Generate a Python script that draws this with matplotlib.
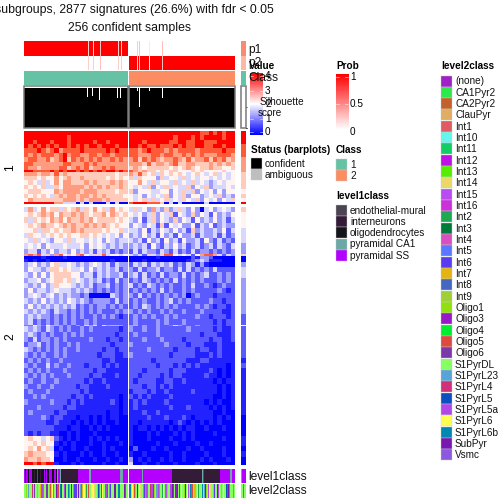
import matplotlib
matplotlib.use("Agg")
import matplotlib.pyplot as plt
from matplotlib.colors import LinearSegmentedColormap, ListedColormap
from matplotlib.patches import Rectangle
import numpy as np

plt.rcParams["font.family"] = ["Liberation Sans", "DejaVu Sans"]

title_lines = ["2 subgroups, 2877 signatures (26.6%) with fdr < 0.05", "256 confident samples"]

# digits 0-9 = blue..white..red, left block | right block
cluster1 = [
    "999999999999999999999999|999999999999999988989899",
    "999999999989999999999999|999999999989998989999899",
    "998999899989999989989999|999899999889988998889999",
    "989898989989898998999899|998988988898988998899899",
    "888987897888898888898988|887898887878888788888988",
    "878788878978877887887888|887778878877878787778887",
    "788778678968787878778787|786878767787686778687867",
    "887777777887778787777777|777686776786677666767676",
    "877677778867878677878777|676566666565676566766556",
    "998888989899898989899898|876766565665556565555655",
    "777677686766666666666566|768656465656545654564545",
    "666565575676676666656565|646555364554645455454545",
    "565464575776667676667676|557546455464546454345455",
    "656564465777776767676676|545463546454463546344454",
    "566655576777767776666566|635554455354646354535355",
    "656565467677677676766665|545354546354635534546343",
    "576666666777676777676666|545646456454654635453546",
    "999999977444040400040400|899988860404000004000000",
]
cluster2 = [
    "474575664656746575647565|464537436346435304534543",
    "565676757667676566757656|545346354625436354253435",
    "646565767576676756666565|435246354363542534353424",
    "565676656767667676765655|354354262545335243523433",
    "556466565667676666565564|443524354353426343343524",
    "465545656565566565454535|343534253425334243342423",
    "546454355464554545354344|434253425342533425324232",
    "454535444544453545434343|343425324353423423424324",
    "344243534435343424342323|242433243242324233232323",
    "787846378565785466845545|434264368854542578874243",
    "000010000100000000000000|000000100000002133200000",
    "101001000000000000001000|000100000000012343111000",
    "345343564454343454342433|243424343423243131000000",
    "354434665654453534343423|324233423324242323242222",
    "435353566665534424343342|342423242332423234223232",
    "344534566564543434232423|232432323242323232223232",
    "434353465554343423342323|423243232322324223212322",
    "353443454443434323232323|232323242322323222223212",
    "345434534343323000004323|324232323232302322212222",
    "434353434354343233332423|232322323423232222322122",
    "353434343434232323323232|232432323232222323212212",
    "434343243323232323222323|323232232322322232222112",
    "343433232323232232323212|232323223232222322122212",
    "342323232323223232222222|232222323222322222212122",
    "885785773232324342437732|372322322863222322222122",
    "434324323232232322222212|322322322222232222212112",
    "343232322323232222222122|232222322222222212221112",
    "324233232322222322212212|222322232222122222122112",
    "233423232232322222221222|322222223222212221112111",
    "432323232322322222122122|222232222212222122112111",
    "323232232322222221222112|322222222122222111212111",
    "232323223222222222112111|222221222222211122111111",
    "323224232232221222121211|222222122212121211111101",
    "232323222322222212211111|222122222122211111210101",
    "323232322232222122111211|221222212122111112110101",
    "232232232222221211211111|212222112211211111101011",
    "322322322222122111121111|222122121211111111110101",
    "232223222222212111111111|122212112111112111110101",
    "223232222221221211111101|212121111211111111100101",
    "322222322212121111112101|121211112111111110101001",
    "222322222122111111111101|121111111211121111010101",
    "232222212211111111101101|111211211111111111100100",
    "222232122111011010101100|111121112111210111101010",
    "222221121110101010100100|110111111012101010101000",
    "222222211101100101010000|101101010101011001000100",
    "212122110010100010000000|100010100010101000010000",
    "565545621010100101010100|100010000100101000000100",
    "556565510101000100100010|100000100010000100100000",
    "565756401001001000101000|020001001000010010000100",
    "676665510100010100100100|100100000100100001000100",
    "766766500100100010010010|301010010100100010100010",
    "998989910001010000100100|400100100010000100010000",
]
thin_rows1 = {9: 0.35, 17: 0.4}
thin_rows2 = {9: 0.35, 10: 0.7, 11: 0.5, 24: 0.35, 51: 0.6}
side_cluster1 = [9, 9, 9, 8, 8, 8, 7, 7, 7, 7, 6, 6, 6, 6, 5, 6, 5, 9]
side_cluster2 = [6, 5, 5, 5, 4, 4, 4, 3, 3, 6, 0, 0, 3, 4, 4, 3, 3, 3, 3, 3, 3, 3, 2, 2, 5, 2, 2, 2, 2, 2,
                 2, 1, 2, 1, 1, 1, 1, 1, 1, 1, 1, 1, 0, 0, 0, 0, 1, 1, 0, 1, 0, 0]

# membership, one value per pixel column; the few non-pure samples are listed
block_widths = [103, 106]
impure_left = {63: 0.2, 68: 0.2, 75: 0.25, 93: 0.2, 96: 0.2}
impure_right = {8: 0.2, 10: 0.25, 20: 0.1, 33: 0.25}
silhouette_base = 0.945
silhouette_left = {63: 0.75, 68: 0.76, 75: 0.67, 93: 0.72, 96: 0.72}
silhouette_right = {8: 0.87, 10: 0.49, 20: 0.89, 33: 0.72}

level1_names = ["endothelial-mural", "interneurons", "oligodendrocytes", "pyramidal CA1", "pyramidal SS"]
level1_colors = ["#4b4553", "#341c38", "#141518", "#6aa9a6", "#b400ff"]
level1_codes = "EIOCS"
level1_left = ("SOSSOSSSOOIOOSOOIOOOSOSOOSSSOOSSOCSSC"
               "IIIIIIIIIIIIIIIISSSSSSSSSSSCCSS"
               "SSSSSSSSSSSSSSSSSSSSSSSSSSSCCCSSSSS")
level1_right = ("SSSSSSSSSSSSSCSSSSSSSSSSSSSSSSSSSSSSSSSSSSS"
                "IIIIIIIIIIIIIIIIIIIIIIIIIIIIIICSIIIIIIIIIIIIIIII"
                "SSSSSSSSSSCCSSS")

level2_names = ["(none)", "CA1Pyr2", "CA2Pyr2", "ClauPyr", "Int1", "Int10", "Int11", "Int12", "Int13", "Int14",
                "Int15", "Int16", "Int2", "Int3", "Int4", "Int5", "Int6", "Int7", "Int8", "Int9",
                "Oligo1", "Oligo3", "Oligo4", "Oligo5", "Oligo6", "S1PyrDL", "S1PyrL23", "S1PyrL4", "S1PyrL5",
                "S1PyrL5a", "S1PyrL6", "S1PyrL6b", "SubPyr", "Vsmc"]
level2_colors = ["#a020c8", "#2fe84e", "#c2622a", "#e0ae62", "#e05a64", "#66f5ea", "#12cc66", "#c010e8", "#55ee00",
                 "#ecd868", "#b84cf0", "#cc30d8", "#1fa851", "#007a3a", "#d850c0", "#5a78ff", "#5a3cf0", "#e4b410",
                 "#4468c0", "#a0d038", "#90e010", "#9818c8", "#00ee30", "#dd4a40", "#7a38a8", "#88ff60", "#58a4d8",
                 "#d03078", "#0c50c0", "#b048e8", "#ffff50", "#0088b0", "#7818b0", "#8c58e0"]
level2_codes = "abcdefghijklmnopqrstuvwxyzABCDEFGH"
level2_left = ("zzuzAzzzBzyzzuzzrDDozzyyzrxzEozzGDxzFGzzDGzzFAzGzAqqFqzGzAxrEEzmz"
               "xzzEEEjzzrCkzFEzzxDFzAqzzzGGzzFFzzzzGFzz")
level2_right = ("FFzEzxrzGzEjzzAqADkzzBDDyuzzAADAzzmEzkkrzzDDGqzvvGzFzEzzuGz"
                "EkzFDxzrrzEmzzjFzAGuzzkEjzzrqzzGDzzuzEzzCFGkzzzAz")

heat_colors = ["#0000ff", "#2222ff", "#5a5aff", "#9c9cff", "#d8d8ff", "#fff4f0", "#ffccbb", "#ff9c80", "#ff5a38", "#ff0000"]
heat_cmap = ListedColormap(heat_colors)
bwr = LinearSegmentedColormap.from_list("bwr2", ["#0000ff", "#ffffff", "#ff0000"])
prob_cmap = LinearSegmentedColormap.from_list("prob", ["#ffffff", "#ff0000"])
class_colors = ["#66c2a5", "#fc8d62"]
BORDER = "#777777"
FS = 10


def parse_rows(rows):
    left = [[int(c) for c in r.split("|")[0]] for r in rows]
    right = [[int(c) for c in r.split("|")[1]] for r in rows]
    return np.array(left), np.array(right)


def membership(width, impure, pure):
    vals = np.full(width, pure, dtype=float)
    for i, v in impure.items():
        vals[i] = v
    return vals.reshape(1, -1)


def codes_to_image(text, codes):
    return np.array([codes.index(c) for c in text]).reshape(1, -1)


def row_edges(n, thin, y0, y1):
    weights = np.array([thin.get(i, 1.0) for i in range(n)])
    edges = np.concatenate([[0], np.cumsum(weights)])
    return y0 + edges / edges[-1] * (y1 - y0)


fig = plt.figure(figsize=(7, 7), dpi=72)
ax = fig.add_axes([0, 0, 1, 1])
ax.set_xlim(0, 504)
ax.set_ylim(504, 0)
ax.axis("off")


def show(img, x0, x1, y0, y1, **kw):
    ax.imshow(img, extent=(x0, x1, y1, y0), aspect="auto", interpolation="nearest", **kw)


def heat(img, xr, edges):
    xs = np.linspace(xr[0], xr[1], img.shape[1] + 1)
    ax.pcolormesh(xs, edges, img, cmap=heat_cmap, vmin=-0.5, vmax=9.5)


left_x = (24, 127.5)
right_x = (129, 235)
side_x = (241, 245.5)

# membership tracks
show(membership(block_widths[0], impure_left, 1.0), *left_x, 41, 56, cmap=prob_cmap, vmin=0, vmax=1)
show(membership(block_widths[1], impure_right, 0.0), *right_x, 41, 56, cmap=prob_cmap, vmin=0, vmax=1)
show(membership(block_widths[0], impure_left, 0.0), *left_x, 56, 70, cmap=prob_cmap, vmin=0, vmax=1)
show(membership(block_widths[1], impure_right, 1.0), *right_x, 56, 70, cmap=prob_cmap, vmin=0, vmax=1)
show(np.array([[0]]), *left_x, 71, 85, cmap=ListedColormap(class_colors), vmin=0, vmax=1)
show(np.array([[1]]), *right_x, 71, 85, cmap=ListedColormap(class_colors), vmin=0, vmax=1)

# side column
ax.add_patch(Rectangle((241, 41), 4.5, 15, color="#f98b70", lw=0))
ax.add_patch(Rectangle((241, 56), 4.5, 14, color="#fdb9a5", lw=0))
ax.add_patch(Rectangle((241, 71), 4.5, 14, color=class_colors[0], lw=0))
ax.add_patch(Rectangle((241, 86), 4.5, 42, fc="white", ec=BORDER, lw=1.5))
ax.plot([245.5, 247], [107, 107], color="#555555", lw=0.7)
ax.plot([245.5, 247], [128, 128], color="black", lw=0.7)

# silhouette bars
for (x0, x1), width, notches in ((left_x, block_widths[0], silhouette_left),
                                 (right_x, block_widths[1], silhouette_right)):
    vals = np.full(width, silhouette_base)
    for i, v in notches.items():
        vals[i] = v
    px = (x1 - x0) / width
    ax.bar(x0 + (np.arange(width) + 0.5) * px, -vals * 42, bottom=128, width=px, color="black", lw=0, antialiased=False)
    ax.add_patch(Rectangle((x0, 86), x1 - x0, 42, fc="none", ec=BORDER, lw=1.5))

# heatmaps
c1_left, c1_right = parse_rows(cluster1)
c2_left, c2_right = parse_rows(cluster2)
edges1 = row_edges(len(cluster1), thin_rows1, 131, 204)
edges2 = row_edges(len(cluster2), thin_rows2, 207, 465)
heat(c1_left, left_x, edges1)
heat(c1_right, right_x, edges1)
heat(c2_left, left_x, edges2)
heat(c2_right, right_x, edges2)
heat(np.array(side_cluster1).reshape(-1, 1), side_x, edges1)
heat(np.array(side_cluster2).reshape(-1, 1), side_x, edges2)

# annotation tracks
l1_cmap = ListedColormap(level1_colors)
l2_cmap = ListedColormap(level2_colors)
show(codes_to_image(level1_left, level1_codes), *left_x, 469, 483, cmap=l1_cmap, vmin=0, vmax=4)
show(codes_to_image(level1_right, level1_codes), *right_x, 469, 483, cmap=l1_cmap, vmin=0, vmax=4)
show(codes_to_image(level2_left, level2_codes), *left_x, 484, 498, cmap=l2_cmap, vmin=0, vmax=33)
show(codes_to_image(level2_right, level2_codes), *right_x, 484, 498, cmap=l2_cmap, vmin=0, vmax=33)
ax.add_patch(Rectangle((241, 469), 1, 14, color=level1_colors[3], lw=0))
ax.add_patch(Rectangle((242, 469), 3.5, 14, color=level1_colors[4], lw=0))
ax.add_patch(Rectangle((241, 484), 1.5, 14, color=level2_colors[25], lw=0))
ax.add_patch(Rectangle((242.5, 484), 1.5, 14, color=level2_colors[33], lw=0))
ax.add_patch(Rectangle((244, 484), 1.5, 14, color=level2_colors[25], lw=0))

ax.set_xlim(0, 504)
ax.set_ylim(504, 0)

# titles and track names
ax.text(129.5, 10, title_lines[0], ha="center", va="center", fontsize=12.3, color="#111111")
ax.text(129.5, 28.5, title_lines[1], ha="center", va="center", fontsize=12.3, color="#111111")
for label, y in (("p1", 50), ("p2", 63), ("Class", 78), ("level1class", 477), ("level2class", 491)):
    ax.text(248, y, label, ha="left", va="center", fontsize=12, color="#111111")
ax.text(10, 168, "1", rotation=90, ha="center", va="center", fontsize=12)
ax.text(10, 337, "2", rotation=90, ha="center", va="center", fontsize=12)

# value legend
ax.text(249, 66, "Value", fontsize=FS, fontweight="bold", va="center")
gradient = np.linspace(4, 0, 100).reshape(-1, 1)
show(gradient, 250, 263, 73, 135, cmap=bwr, vmin=0, vmax=4)
for label, y in (("4", 76), ("3", 91), ("2", 104), ("1", 119), ("0", 132)):
    ax.plot([250, 253], [y, y], color="white", lw=0.5)
    ax.plot([260, 263], [y, y], color="white", lw=0.5)
    ax.text(265, y, label, fontsize=FS, va="center")
ax.text(260, 102, "Silhouette", fontsize=FS, va="center", color="#111111")
ax.text(258, 112.5, "score", fontsize=FS, va="center", color="#111111")

# prob legend
ax.text(336, 66, "Prob", fontsize=FS, fontweight="bold", va="center")
show(np.linspace(1, 0, 100).reshape(-1, 1), 335.5, 348, 74, 130, cmap=prob_cmap, vmin=0, vmax=1)
for label, y in (("1", 77), ("0.5", 104), ("0", 132)):
    ax.text(350, y, label, fontsize=FS, va="center")
    if y < 130:
        ax.plot([335.5, 338.5], [y, y], color="white", lw=0.5)
        ax.plot([345, 348], [y, y], color="white", lw=0.5)


def legend_box(x, y, color, label, h=11):
    ax.add_patch(Rectangle((x, y), 11, h, fc=color, ec="#cccccc", lw=0.4))
    ax.text(x + 14, y + h / 2 + 0.3, label, fontsize=FS, va="center", color="#111111")


ax.text(251, 150, "Status (barplots)", fontsize=FS, fontweight="bold", va="center")
legend_box(251, 158, "black", "confident")
legend_box(251, 169, "#bebebe", "ambiguous")
ax.text(336, 150, "Class", fontsize=FS, fontweight="bold", va="center")
legend_box(336, 159, class_colors[0], "1")
legend_box(336, 170, class_colors[1], "2")

ax.text(336, 196, "level1class", fontsize=FS, fontweight="bold", va="center")
for i, (name, color) in enumerate(zip(level1_names, level1_colors)):
    legend_box(336, 205 + i * 11.2, color, name)

ax.text(441, 66, "level2class", fontsize=FS, fontweight="bold", va="center")
for i, (name, color) in enumerate(zip(level2_names, level2_colors)):
    legend_box(441, 75.5 + i * 11.33, color, name)

fig.savefig("out.png", dpi=72)
